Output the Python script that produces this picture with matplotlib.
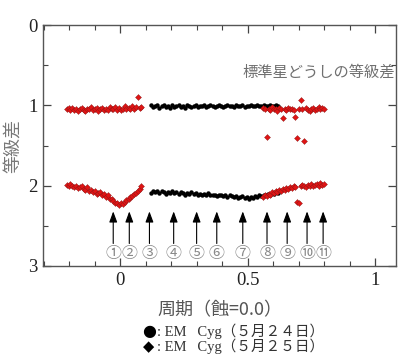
import matplotlib
matplotlib.use("Agg")
import matplotlib.pyplot as plt
from matplotlib.ticker import MultipleLocator, FixedLocator

plt.rcParams['font.family'] = ['Liberation Serif', 'Noto Sans CJK JP', 'DejaVu Sans']

# phases of the observations (eclipse = 0.0)
phase_red_a = [-0.210, -0.203, -0.196, -0.188, -0.181, -0.174, -0.166, -0.159, -0.152, -0.144,
               -0.137, -0.130, -0.122, -0.115, -0.108, -0.100, -0.093, -0.086, -0.078, -0.071,
               -0.064, -0.056, -0.049, -0.042, -0.034, -0.027, -0.020, -0.012, -0.005, 0.002,
               0.010, 0.017, 0.024, 0.032, 0.039, 0.046, 0.054, 0.061, 0.068, 0.076,
               0.080]
phase_black = [0.120, 0.128, 0.137, 0.145, 0.153, 0.162, 0.170, 0.178, 0.187, 0.195,
               0.203, 0.212, 0.220, 0.228, 0.237, 0.245, 0.253, 0.262, 0.270, 0.278,
               0.287, 0.295, 0.303, 0.312, 0.320, 0.328, 0.337, 0.345, 0.353, 0.362,
               0.370, 0.378, 0.387, 0.395, 0.403, 0.412, 0.420, 0.428, 0.437, 0.445,
               0.453, 0.462, 0.470, 0.478, 0.487, 0.495, 0.503, 0.512, 0.520, 0.528,
               0.537, 0.545, 0.553, 0.562, 0.570, 0.578, 0.587, 0.595, 0.603, 0.612,
               0.620]
phase_red_b = [0.560, 0.567, 0.574, 0.581, 0.588, 0.595, 0.602, 0.609, 0.616, 0.623,
               0.630, 0.637, 0.644, 0.651, 0.658, 0.665, 0.672, 0.679, 0.686, 0.693,
               0.700, 0.707, 0.714, 0.721, 0.728, 0.735, 0.742, 0.749, 0.756, 0.763,
               0.770, 0.777, 0.784, 0.791, 0.798]

# comparison-star differences (~1 mag)
chk_red_a = [1.05, 1.03, 1.06, 1.03, 1.06, 1.04, 1.07, 1.05, 1.03, 1.06,
             1.07, 1.04, 1.05, 1.02, 1.06, 1.05, 1.03, 1.07, 1.05, 1.03,
             1.06, 1.04, 1.06, 1.02, 1.05, 1.04, 1.02, 1.06, 1.03, 1.06,
             1.04, 1.01, 1.05, 1.03, 1.04, 1.01, 1.05, 1.02, 0.90, 1.03,
             1.02]
chk_black = [1.00, 1.02, 1.01, 0.99, 1.03, 1.01, 1.00, 1.02, 1.01, 1.03,
             1.00, 1.02, 1.01, 0.99, 1.02, 1.01, 1.03, 1.00, 1.01, 1.02,
             1.01, 1.00, 1.02, 1.01, 1.01, 1.00, 1.02, 1.01, 1.00, 1.01,
             1.02, 1.01, 1.00, 1.01, 1.02, 1.01, 1.00, 1.01, 1.01, 1.02,
             1.00, 1.01, 1.01, 1.00, 1.02, 1.01, 1.01, 1.00, 1.01, 1.01,
             1.00, 1.01, 1.01, 1.00, 1.01, 1.01, 1.00, 1.01, 1.01, 1.00,
             1.01]
chk_red_b = [1.03, 1.05, 1.39, 1.04, 1.06, 1.02, 1.05, 1.04, 1.07, 1.03,
             1.05, 1.16, 1.04, 1.06, 1.03, 1.05, 1.04, 1.06, 1.14, 1.41,
             1.05, 0.93, 1.04, 1.44, 1.03, 1.06, 1.07, 1.04, 1.03, 1.06,
             1.04, 1.02, 1.05, 1.03, 1.04]

# EM Cyg differences (~2 mag)
var_red_a = [1.99, 2.01, 1.98, 2.00, 2.02, 2.00, 2.03, 2.02, 2.01, 2.04,
             2.05, 2.02, 2.06, 2.05, 2.08, 2.06, 2.10, 2.09, 2.08, 2.12,
             2.10, 2.14, 2.12, 2.16, 2.17, 2.19, 2.21, 2.22, 2.24, 2.22,
             2.23, 2.20, 2.18, 2.17, 2.14, 2.13, 2.10, 2.09, 2.06, 2.04,
             2.01]
var_black = [2.09, 2.07, 2.08, 2.06, 2.09, 2.07, 2.08, 2.10, 2.08, 2.09,
             2.07, 2.09, 2.08, 2.10, 2.08, 2.09, 2.11, 2.09, 2.10, 2.08,
             2.10, 2.09, 2.11, 2.10, 2.12, 2.10, 2.11, 2.09, 2.11, 2.12,
             2.11, 2.13, 2.12, 2.11, 2.13, 2.12, 2.14, 2.12, 2.13, 2.14,
             2.13, 2.15, 2.14, 2.13, 2.15, 2.14, 2.16, 2.14, 2.15, 2.13,
             2.14, 2.12, 2.13, 2.11, 2.12, 2.10, 2.11, 2.09, 2.10, 2.08,
             2.09]
var_red_b = [2.14, 2.12, 2.13, 2.10, 2.11, 2.08, 2.09, 2.07, 2.08, 2.05,
             2.06, 2.04, 2.05, 2.03, 2.04, 2.02, 2.03, 2.01, 2.02, 2.20,
             2.21, 2.01, 1.99, 2.00, 2.02, 1.99, 2.00, 1.98, 2.01, 1.99,
             1.98, 2.00, 1.97, 1.99, 1.98]

# numbered marker phases
arrow_phase = [-0.028, 0.035, 0.114, 0.209, 0.299, 0.378, 0.480, 0.575, 0.654, 0.732, 0.795]
arrow_labels = ['①', '②', '③', '④', '⑤', '⑥', '⑦', '⑧', '⑨', '⑩', '⑪']

red = '#e01414'

fig = plt.figure(figsize=(3.99, 3.58), dpi=100)
ax = fig.add_axes([0.108, 0.257, 0.884, 0.673])

ax.plot(phase_black, chk_black, 'o', color='black', ms=3.2, mew=0)
ax.plot(phase_black, var_black, 'o', color='black', ms=3.2, mew=0)
for ph, chk, var in [(phase_red_a, chk_red_a, var_red_a), (phase_red_b, chk_red_b, var_red_b)]:
    ax.plot(ph, chk, 'D', color=red, ms=3.0, mec='#8a1515', mew=0.3)
    ax.plot(ph, var, 'D', color=red, ms=3.0, mec='#8a1515', mew=0.3)

for x, lab in zip(arrow_phase, arrow_labels):
    ax.annotate('', xy=(x, 2.32), xytext=(x, 2.72),
                arrowprops=dict(arrowstyle='-|>,head_length=0.65,head_width=0.24',
                                color='black', lw=0.8, shrinkA=0, shrinkB=0))
    ax.text(x, 2.84, lab, ha='center', va='center', fontsize=11.5, color='#8a8a8a',
            family=['Noto Sans CJK JP', 'DejaVu Sans'])

ax.text(1.075, 0.59, '標準星どうしの等級差', ha='right', va='center', fontsize=11,
        color='#707070', family=['Noto Sans CJK JP', 'DejaVu Sans'])

ax.set_xlim(-0.303, 1.08)
ax.set_ylim(3, 0)
ax.xaxis.set_major_locator(FixedLocator([0, 0.5, 1]))
ax.xaxis.set_minor_locator(MultipleLocator(0.1))
ax.yaxis.set_major_locator(MultipleLocator(1))
ax.yaxis.set_minor_locator(MultipleLocator(0.5))
ax.set_xticklabels(['0', '0.5', '1'])
ax.tick_params(which='both', direction='in', top=True, right=True, color='#444444',
               labelsize=13.5, labelcolor='#222222', pad=4)
ax.tick_params(which='major', length=6, width=0.9)
ax.tick_params(which='minor', length=3.5, width=0.8)
for sp in ax.spines.values():
    sp.set_color('#555555')
    sp.set_linewidth(1.0)

ax.set_ylabel('等級差', fontsize=13, color='#777777', family=['Noto Sans CJK JP', 'DejaVu Sans'],
              labelpad=4)
ax.set_xlabel('周期（蝕=0.0）', fontsize=13, color='#555555',
              family=['Noto Sans CJK JP', 'DejaVu Sans'], labelpad=9)

# legend text
fig.text(0.355, 0.075, '●', fontsize=11.5, ha='left', va='center', color='black',
         family=['DejaVu Sans'])
fig.text(0.393, 0.075, ': EM   Cyg（５月２４日）', fontsize=10.5, ha='left', va='center',
         color='#333333', family=['Liberation Serif', 'Noto Sans CJK JP'])
fig.text(0.358, 0.033, '◆', fontsize=10.5, ha='left', va='center', color='black',
         family=['DejaVu Sans'])
fig.text(0.393, 0.033, ': EM   Cyg（５月２５日）', fontsize=10.5, ha='left', va='center',
         color='#333333', family=['Liberation Serif', 'Noto Sans CJK JP'])

fig.savefig('out.png', dpi=100)
